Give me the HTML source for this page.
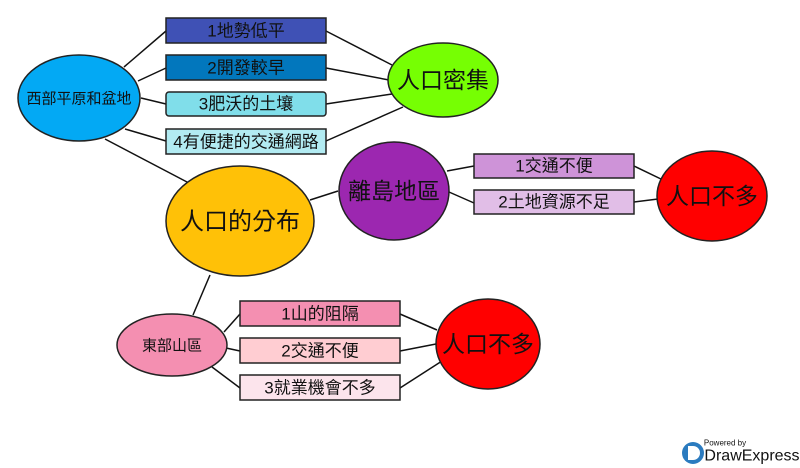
<!DOCTYPE html>
<html><head><meta charset="utf-8"><style>
html,body{margin:0;padding:0;background:#fff;width:800px;height:468px;overflow:hidden}
svg text{font-family:"Liberation Sans","Noto Sans CJK TC",sans-serif;text-anchor:middle;dominant-baseline:central;fill:#111}
</style></head><body>
<svg width="800" height="468" viewBox="0 0 800 468" xmlns="http://www.w3.org/2000/svg">
<g stroke="#111" stroke-width="1.5" fill="none">
<line x1="124" y1="67" x2="166" y2="31"/>
<line x1="138" y1="81" x2="166" y2="68"/>
<line x1="141" y1="98" x2="166" y2="104"/>
<line x1="125" y1="129" x2="166" y2="141"/>
<line x1="326" y1="31" x2="392" y2="65"/>
<line x1="326" y1="68" x2="389" y2="80"/>
<line x1="326" y1="104" x2="392" y2="94"/>
<line x1="326" y1="141" x2="403" y2="107"/>
<line x1="105" y1="139" x2="187" y2="182"/>
<line x1="310" y1="200" x2="338" y2="191"/>
<line x1="210" y1="275" x2="193" y2="315"/>
<line x1="447" y1="171" x2="474" y2="166"/>
<line x1="449" y1="192" x2="474" y2="203"/>
<line x1="634" y1="166" x2="663" y2="180"/>
<line x1="634" y1="202" x2="658" y2="199"/>
<line x1="224" y1="332" x2="240" y2="314"/>
<line x1="226" y1="348" x2="240" y2="351"/>
<line x1="212" y1="367" x2="240" y2="388"/>
<line x1="400" y1="314" x2="437" y2="330"/>
<line x1="400" y1="351" x2="436" y2="344"/>
<line x1="400" y1="388" x2="442" y2="361"/>
</g>
<g stroke="#222" stroke-width="1.5">
<ellipse cx="79" cy="98" rx="61" ry="43" fill="#03a9f4"/>
<ellipse cx="443" cy="80" rx="55" ry="37" fill="#76ff03"/>
<ellipse cx="240" cy="221" rx="74" ry="55" fill="#ffc107"/>
<ellipse cx="394" cy="191" rx="55" ry="49" fill="#9c27b0"/>
<ellipse cx="712" cy="196" rx="55" ry="45" fill="#ff0000"/>
<ellipse cx="172" cy="345" rx="55" ry="31" fill="#f48fb1"/>
<ellipse cx="488" cy="344" rx="52" ry="45" fill="#ff0000"/>
<rect x="166" y="18" width="160" height="25" fill="#3f51b5"/>
<rect x="166" y="55" width="160" height="25" fill="#0277bd"/>
<rect x="166" y="92" width="160" height="24" rx="3" fill="#80deea"/>
<rect x="166" y="129" width="160" height="25" fill="#b2ebf2"/>
<rect x="474" y="154" width="160" height="24" fill="#ce93d8"/>
<rect x="474" y="190" width="160" height="24" fill="#e1bee7"/>
<rect x="240" y="301" width="160" height="25" fill="#f48fb1"/>
<rect x="240" y="338" width="160" height="25" fill="#ffcdd2"/>
<rect x="240" y="375" width="160" height="25" fill="#fce4ec"/>
</g>
<text x="79" y="99" font-size="15">西部平原和盆地</text>
<text x="246" y="31" font-size="17">1地勢低平</text>
<text x="246" y="68" font-size="17">2開發較早</text>
<text x="246" y="104" font-size="17">3肥沃的土壤</text>
<text x="246" y="142" font-size="17">4有便捷的交通網路</text>
<text x="443" y="80" font-size="23">人口密集</text>
<text x="240" y="222" font-size="24">人口的分布</text>
<text x="394" y="191" font-size="23">離島地區</text>
<text x="554" y="166" font-size="17">1交通不便</text>
<text x="554" y="202" font-size="17">2土地資源不足</text>
<text x="712" y="196" font-size="23">人口不多</text>
<text x="172" y="346" font-size="15">東部山區</text>
<text x="320" y="314" font-size="17">1山的阻隔</text>
<text x="320" y="351" font-size="17">2交通不便</text>
<text x="320" y="388" font-size="17">3就業機會不多</text>
<text x="488" y="344" font-size="23">人口不多</text>
<circle cx="693" cy="453" r="11" fill="#2b7bbf"/>
<path d="M688 446 h5 a7 7 0 0 1 0 14 h-5 z" fill="#fff"/>
<text x="725" y="443" font-size="8">Powered by</text>
<text x="752" y="456" font-size="16">DrawExpress</text>
</svg>
</body></html>
